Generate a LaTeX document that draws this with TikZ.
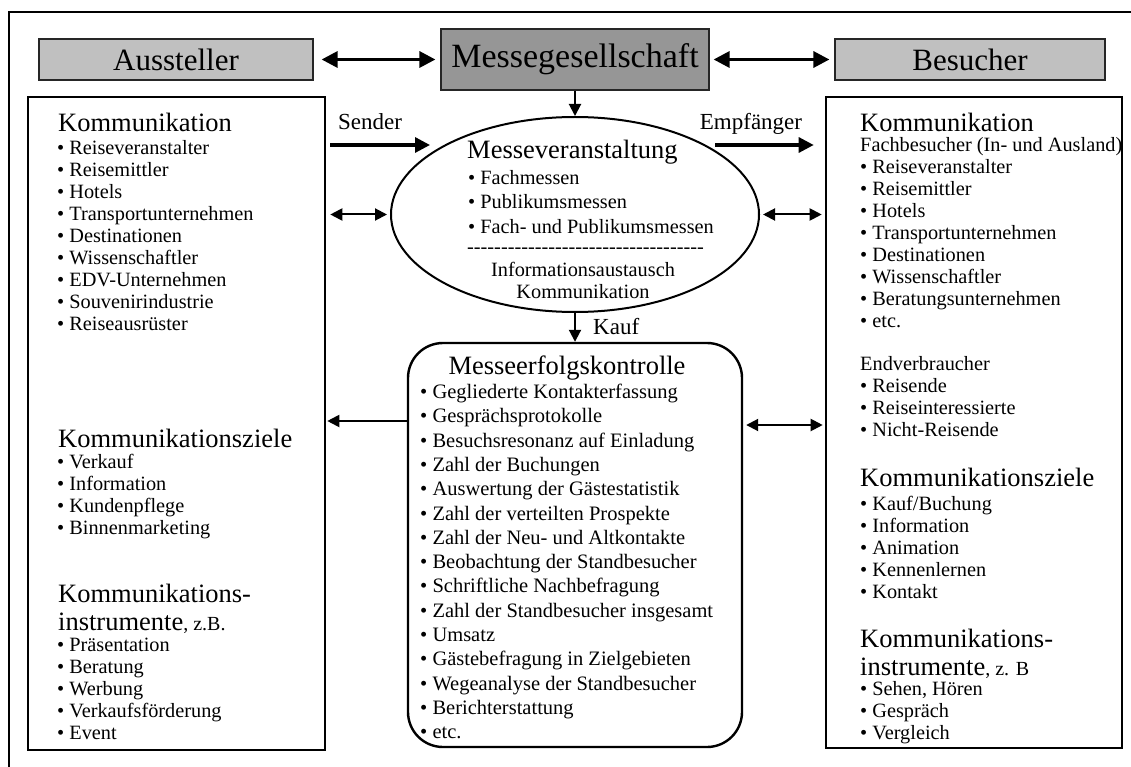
\documentclass[tikz,border=0pt]{standalone}
\usepackage{fontspec}
\setmainfont{Liberation Serif}
\usetikzlibrary{shapes.geometric,arrows.meta}

\definecolor{boxgray}{HTML}{C0C0C0}
\definecolor{headgray}{HTML}{969696}

% a run of hyphens that are not merged into dashes
\newcommand\hyphenrun[1]{\foreach \k in {1,...,#1}{-\kern0pt}}

\tikzset{
  frame/.style={line width=2.2pt},
  topbox/.style={draw=black!85, line width=1.2pt, fill=#1, inner sep=0pt,
    font=\fontsize{31}{34}\selectfont},
  panel/.style={draw, line width=2.6pt, inner sep=0pt},
  hd/.style={anchor=base west, inner sep=0pt, font=\fontsize{26.5}{30}\selectfont},
  itm/.style={anchor=base west, inner sep=0pt, font=\fontsize{20.3}{22}\selectfont},
  ritm/.style={anchor=base west, inner sep=0pt, font=\fontsize{20.5}{24}\selectfont},
  lbl/.style={anchor=base, inner sep=0pt, font=\fontsize{23}{26}\selectfont},
  bigarrow/.style={line width=3.2pt, -{Triangle[length=15pt,width=15pt]}},
  bigboth/.style={line width=3.2pt,
    {Triangle[length=16pt,width=16pt]}-{Triangle[length=16pt,width=16pt]}},
  thinarrow/.style={line width=2pt, -{Triangle[length=12pt,width=12pt]}},
  thinboth/.style={line width=2pt,
    {Triangle[length=12pt,width=12pt]}-{Triangle[length=12pt,width=12pt]}},
}

\begin{document}
\begin{tikzpicture}[x=1pt,y=-1pt]
\useasboundingbox (0,0) rectangle (1131,767);

% outer frame
\draw[frame] (9,767) -- (9,12) -- (1131,12);

% top row
\node[topbox=boxgray, minimum width=274pt, minimum height=41pt] (aus) at (176,59.5) {Aussteller};
\node[topbox=headgray, minimum width=268pt, minimum height=61pt,
      font=\fontsize{34}{38}\selectfont] (mg) at (575,59.5) {Messegesellschaft};
\node[topbox=boxgray, minimum width=270pt, minimum height=41pt] (bes) at (970,59.5) {Besucher};

\draw[bigboth, shorten <=8pt, shorten >=5pt] (aus.east) -- (mg.west);
\draw[bigboth, shorten <=4pt, shorten >=5pt] (mg.east) -- (bes.west);

% side panels
\node[panel, minimum width=297pt, minimum height=653pt] (lbox) at (176.5,423.5) {};
\node[panel, minimum width=296pt, minimum height=651pt] (rbox) at (974,422.5) {};

% centre: trade fair and success control
\node[draw, ellipse, line width=2pt, minimum width=368pt, minimum height=195pt, inner sep=0pt]
  (ell) at (575,214.5) {};
\node[draw, rounded corners=35pt, line width=2.4pt, minimum width=334pt, minimum height=404pt,
  inner sep=0pt] (rb) at (575,545) {};

\draw[thinarrow] (mg.south) -- (ell.north);
\draw[thinarrow] (ell.south) -- (rb.north);
\node[lbl, anchor=base west] (kauf) at (593,334) {Kauf};

% sender / receiver
\node[lbl] (sender) at (370,129.5) {Sender};
\node[lbl] (empf) at (751,129.5) {Empfänger};
\coordinate (sndtip) at (430,145);
\coordinate (empstart) at (715,145);
\draw[bigarrow, shorten <=4pt] (lbox.east |- sndtip) -- (sndtip);
\draw[bigarrow, shorten >=11pt] (empstart) -- (rbox.west |- empstart);

% exchange arrows
\draw[thinboth, shorten <=4pt, shorten >=3pt] (lbox.east |- ell.west) -- (ell.west);
\draw[thinboth, shorten <=3pt, shorten >=3pt] (ell.east) -- (rbox.west |- ell.east);
\coordinate (lowl) at (575,421);
\coordinate (lowr) at (575,425);
\draw[thinarrow, shorten >=1pt] (rb.west |- lowl) -- (lbox.east |- lowl);
\draw[thinboth, shorten <=3pt, shorten >=2pt] (rb.east |- lowr) -- (rbox.west |- lowr);

% ellipse text
\node[hd] (mv) at (467,159) {Messeveranstaltung};
\foreach \t [count=\i from 0] in {Fachmessen, Publikumsmessen, Fach- und Publikumsmessen}
  \node[itm] (mv\i) at (468,{184.5+24.5*\i}) {\textbullet\ \t};
\node[itm] (dash) at (467,254) {\hyphenrun{35}};
\node[itm, anchor=base] (info) at (583,276.5) {Informationsaustausch};
\node[itm, anchor=base] (komm) at (583,298.5) {Kommunikation};

% success control text
\node[hd, anchor=base] (mek) at (567,374) {Messeerfolgskontrolle};
\foreach \t [count=\i from 0] in {Gegliederte Kontakterfassung, Gesprächsprotokolle,
    Besuchsresonanz auf Einladung, Zahl der Buchungen, Auswertung der Gästestatistik,
    Zahl der verteilten Prospekte, Zahl der Neu- und Altkontakte,
    Beobachtung der Standbesucher, Schriftliche Nachbefragung,
    Zahl der Standbesucher insgesamt, Umsatz, Gästebefragung in Zielgebieten,
    Wegeanalyse der Standbesucher, Berichterstattung, etc.}
  \node[ritm] (mk\i) at (420,{398.5+24.3*\i}) {\textbullet\ \t};

% exhibitor panel
\node[hd] (lk) at (58,132) {Kommunikation};
\foreach \t [count=\i from 0] in {Reiseveranstalter, Reisemittler, Hotels,
    Transportunternehmen, Destinationen, Wissenschaftler, EDV-Unternehmen,
    Souvenirindustrie, Reiseausrüster}
  \node[itm] (lk\i) at (57,{154.5+22*\i}) {\textbullet\ \t};
\node[hd] (lz) at (58,447) {Kommunikationsziele};
\foreach \t [count=\i from 0] in {Verkauf, Information, Kundenpflege, Binnenmarketing}
  \node[itm] (lz\i) at (57,{468.5+22*\i}) {\textbullet\ \t};
\node[hd] (li) at (58,602) {Kommunikations-};
\node[hd] (li2) at (58,630) {instrumente\fontsize{20}{22}\selectfont, z.B.};
\foreach \t [count=\i from 0] in {Präsentation, Beratung, Werbung, Verkaufsförderung, Event}
  \node[itm] (li\i) at (57,{651.5+22*\i}) {\textbullet\ \t};

% visitor panel
\node[hd] (rk) at (860,132) {Kommunikation};
\node[itm] (rfb) at (860,151.5) {Fachbesucher (In- und Ausland)};
\foreach \t [count=\i from 0] in {Reiseveranstalter, Reisemittler, Hotels,
    Transportunternehmen, Destinationen, Wissenschaftler, Beratungsunternehmen, etc.}
  \node[itm] (rk\i) at (860,{173.5+22*\i}) {\textbullet\ \t};
\node[itm] (rev) at (860,370.5) {Endverbraucher};
\foreach \t [count=\i from 0] in {Reisende, Reiseinteressierte, Nicht-Reisende}
  \node[itm] (rev\i) at (860,{392.5+22*\i}) {\textbullet\ \t};
\node[hd] (rz) at (860,486) {Kommunikationsziele};
\foreach \t [count=\i from 0] in {Kauf/Buchung, Information, Animation, Kennenlernen, Kontakt}
  \node[itm] (rz\i) at (860,{510.5+22*\i}) {\textbullet\ \t};
\node[hd] (ri) at (860,647) {Kommunikations-};
\node[hd] (ri2) at (860,675) {instrumente\fontsize{20}{22}\selectfont, z. B};
\foreach \t [count=\i from 0] in {{Sehen, Hören}, Gespräch, Vergleich}
  \node[itm] (ri\i) at (860,{695.5+22*\i}) {\textbullet\ \t};

\end{tikzpicture}
\end{document}
